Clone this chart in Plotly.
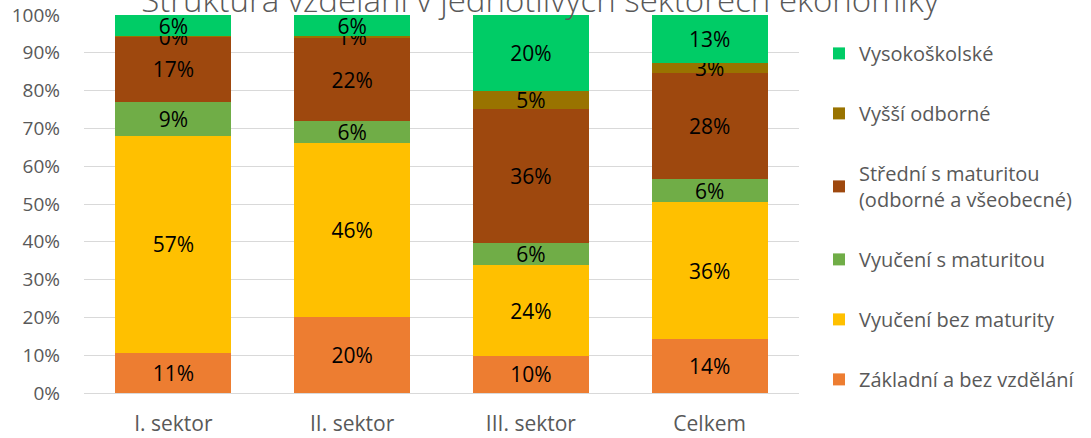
import plotly.graph_objects as go

categories = ["I. sektor", "II. sektor", "III. sektor", "Celkem"]
series_names = [
    "Základní a bez vzdělání",
    "Vyučení bez maturity",
    "Vyučení s maturitou",
    "Střední s maturitou<br>(odborné a všeobecné)",
    "Vyšší odborné",
    "Vysokoškolské",
]
zakladni = [10.7, 20.1, 9.8, 14.3]
vyuceni_bez = [57.4, 46.0, 24.0, 36.1]
vyuceni_s = [8.9, 5.9, 5.8, 6.1]
stredni = [17.2, 21.8, 35.6, 28.1]
vyssi = [0.2, 0.6, 4.7, 2.8]
vysokoskolske = [5.6, 5.6, 20.1, 12.6]
values = [zakladni, vyuceni_bez, vyuceni_s, stredni, vyssi, vysokoskolske]
colors = ["#ED7D31", "#FFC000", "#70AD47", "#9E480E", "#997300", "#00CC66"]

font_family = "Open Sans, Noto Sans, sans-serif"

fig = go.Figure()
n = len(series_names)
for i, (name, vals, col) in enumerate(zip(series_names, values, colors)):
    fig.add_trace(go.Bar(
        x=categories, y=vals, name=name, marker=dict(color=col, line=dict(width=0)),
        text=[f"{v:.0f}%" for v in vals], textposition="inside",
        insidetextanchor="middle", textangle=0,
        textfont=dict(color="black", size=21, family=font_family),
        legendgroup=str(i), legendrank=n - i, width=0.65,
    ))

fig.update_layout(
    barmode="stack",
    width=1091, height=438,
    margin=dict(l=84, r=291, t=15, b=45),
    paper_bgcolor="white", plot_bgcolor="white",
    uniformtext=dict(minsize=21, mode="show"),
    title=dict(
        text="Struktura vzdělání v jednotlivých sektorech ekonomiky",
        x=0.495, xanchor="center", xref="container",
        y=1.0, yanchor="middle", yref="container", automargin=False,
        font=dict(size=33, color="#595959", family=font_family, weight=300),
    ),
    legend=dict(
        x=1.0265, xanchor="left", y=0.950, yanchor="top",
        traceorder="grouped", tracegroupgap=31,
        font=dict(size=20, color="#595959", family=font_family),
        itemwidth=30,
    ),
    showlegend=True,
)
fig.update_yaxes(
    range=[0, 100], dtick=10, ticksuffix="%", automargin=False,
    gridcolor="#D9D9D9", gridwidth=1, showline=False, zeroline=False,
    tickfont=dict(size=19, color="#595959", family=font_family),
    ticklabelstandoff=23,
)
fig.update_xaxes(
    showline=True, linecolor="#D9D9D9", linewidth=1, automargin=False,
    tickfont=dict(size=21, color="#595959", family=font_family),
    ticks="", ticklabelstandoff=12,
)
fig.write_html("out.html", config={"displayModeBar": False},
               post_script="document.body.style.margin='0';")
